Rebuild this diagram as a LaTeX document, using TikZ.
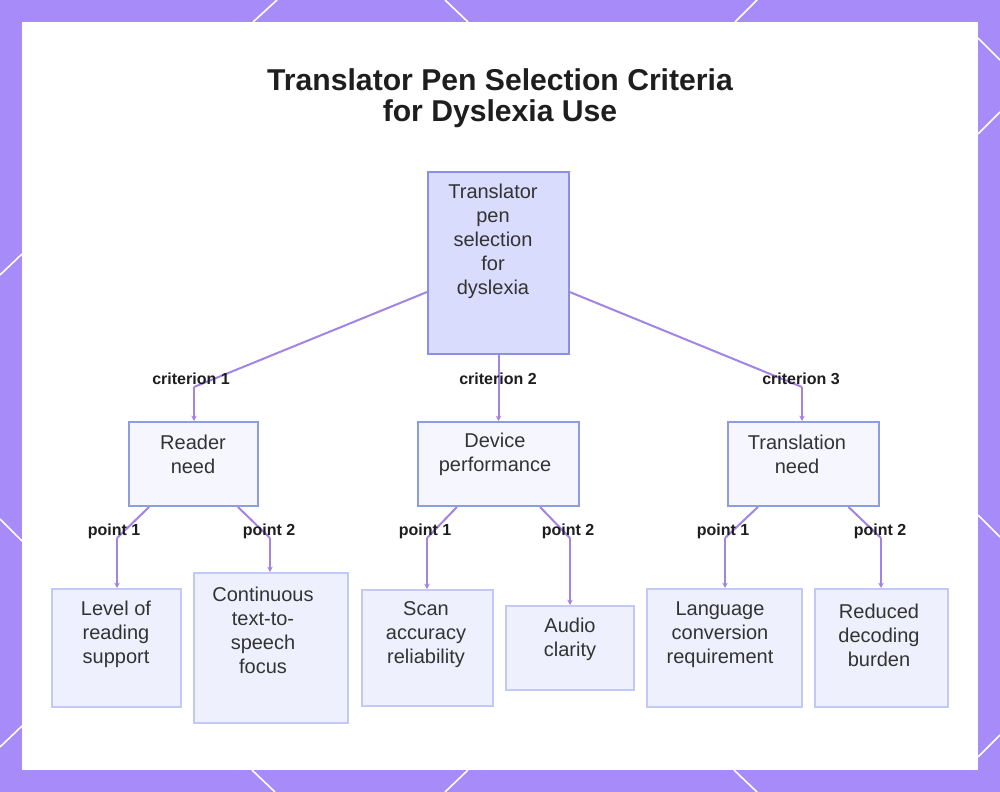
\documentclass[tikz,border=0pt]{standalone}
\usepackage{fontspec}
\setmainfont{Liberation Sans}
\usetikzlibrary{arrows.meta}
\definecolor{frame}{HTML}{A78BF8}
\definecolor{edgec}{HTML}{A284E6}
\definecolor{rootfill}{HTML}{D9DCFC}
\definecolor{rootdraw}{HTML}{8C90E2}
\definecolor{midfill}{HTML}{F6F7FE}
\definecolor{middraw}{HTML}{8E9DE2}
\definecolor{leaffill}{HTML}{EEF1FD}
\definecolor{leafdraw}{HTML}{C3C9F5}
\definecolor{txt}{HTML}{333333}
\definecolor{lbl}{HTML}{1E1E1E}
\tikzset{
  sz/.style 2 args={minimum width=#1*0.75pt, minimum height=#2*0.75pt},
  box/.style={rectangle, inner sep=0pt, line width=1.5pt},
  rootbox/.style={box, fill=rootfill, draw=rootdraw},
  midbox/.style={box, fill=midfill, draw=middraw},
  leafbox/.style={box, fill=leaffill, draw=leafdraw},
  boxtext/.style={inner sep=0pt, align=center, text=txt, font=\fontsize{15}{18}\selectfont},
  lab/.style={inner sep=0pt, text=lbl, font=\fontsize{12}{14}\selectfont\bfseries},
  edge/.style={draw=edgec, line width=1.5pt},
  arr/.style={edge, -{Stealth[length=4pt,width=4pt]}},
  deco/.style={draw=white, line width=1.2pt}
}
\begin{document}
\begin{tikzpicture}[x=0.75pt, y=-0.75pt]
% frame
\fill[frame] (0,0) rectangle (1000,792);
\useasboundingbox (0,0) rectangle (1000,792);
\draw[deco] (253,22) -- (277,0);
\draw[deco] (445,0) -- (468,22);
\draw[deco] (735,22) -- (757,0);
\draw[deco] (252,770) -- (275,792);
\draw[deco] (468,770) -- (445,792);
\draw[deco] (734,770) -- (757,792);
\draw[deco] (0,275) -- (22,254);
\draw[deco] (0,519) -- (22,541);
\draw[deco] (0,747) -- (22,726);
\draw[deco] (978,38) -- (1000,60);
\draw[deco] (978,134) -- (1000,112);
\draw[deco] (978,515) -- (1000,537);
\draw[deco] (978,757) -- (1000,735);
\fill[white] (22,22) rectangle (978,770);

% title
\node[inner sep=0pt, align=center, text=lbl, font=\fontsize{22.6}{23.3}\selectfont\bfseries] (title) at (500,98)
  {Translator Pen Selection Criteria\\for Dyslexia Use};

% boxes
\node[rootbox, sz={141}{182}] (root) at (498.5,263) {};
\node[midbox, sz={129}{84}] (reader) at (193.5,464) {};
\node[midbox, sz={161}{84}] (device) at (498.5,464) {};
\node[midbox, sz={151}{84}] (transl) at (803.5,464) {};
\node[leafbox, sz={129}{118}] (level) at (116.5,648) {};
\node[leafbox, sz={154}{150}] (cont) at (271,648) {};
\node[leafbox, sz={131}{116}] (scan) at (427.5,648) {};
\node[leafbox, sz={128}{84}] (audio) at (570,648) {};
\node[leafbox, sz={155}{118}] (lang) at (724.5,648) {};
\node[leafbox, sz={133}{118}] (reduced) at (881.5,648) {};

% box texts
\node[boxtext] (roott) at (493,241) {Translator\\pen\\selection\\for\\dyslexia};
\node[boxtext] (readert) at (193,454.5) {Reader\\need};
\node[boxtext] (devicet) at (495,454.5) {Device\\performance};
\node[boxtext] (translt) at (797,454.5) {Translation\\need};
\node[boxtext] (levelt) at (116,634) {Level of\\reading\\support};
\node[boxtext] (contt) at (263,630) {Continuous\\text-to-\\speech\\focus};
\node[boxtext] (scant) at (426,635) {Scan\\accuracy\\reliability};
\node[boxtext] (audiot) at (570,639) {Audio\\clarity};
\node[boxtext] (langt) at (720,635) {Language\\conversion\\requirement};
\node[boxtext] (reducedt) at (879,635) {Reduced\\decoding\\burden};

% bend points
\coordinate (b1) at (194,387);
\coordinate (b3) at (802,387);
\coordinate (p11) at (117,538);
\coordinate (p12) at (270,538);
\coordinate (p21) at (427,538);
\coordinate (p22) at (570,538);
\coordinate (p31) at (725,538);
\coordinate (p32) at (881,538);

% edges
\draw[edge] (root) -- (b1);
\draw[arr] (b1) -- (b1 |- reader.north);
\draw[arr] (root) -- (device);
\draw[edge] (root) -- (b3);
\draw[arr] (b3) -- (b3 |- transl.north);

\draw[edge] (reader) -- (p11);
\draw[arr] (p11) -- (p11 |- level.north);
\draw[edge] (reader) -- (p12);
\draw[arr] (p12) -- (p12 |- cont.north);
\draw[edge] (device) -- (p21);
\draw[arr] (p21) -- (p21 |- scan.north);
\draw[edge] (device) -- (p22);
\draw[arr] (p22) -- (p22 |- audio.north);
\draw[edge] (transl) -- (p31);
\draw[arr] (p31) -- (p31 |- lang.north);
\draw[edge] (transl) -- (p32);
\draw[arr] (p32) -- (p32 |- reduced.north);

% labels
\node[lab] (l1) at (191,379) {criterion 1};
\node[lab] (l2) at (498,379) {criterion 2};
\node[lab] (l3) at (801,379) {criterion 3};
\node[lab] (l11) at (114,531) {point 1};
\node[lab] (l12) at (269,531) {point 2};
\node[lab] (l21) at (425,531) {point 1};
\node[lab] (l22) at (568,531) {point 2};
\node[lab] (l31) at (723,531) {point 1};
\node[lab] (l32) at (880,531) {point 2};
\end{tikzpicture}
\end{document}
